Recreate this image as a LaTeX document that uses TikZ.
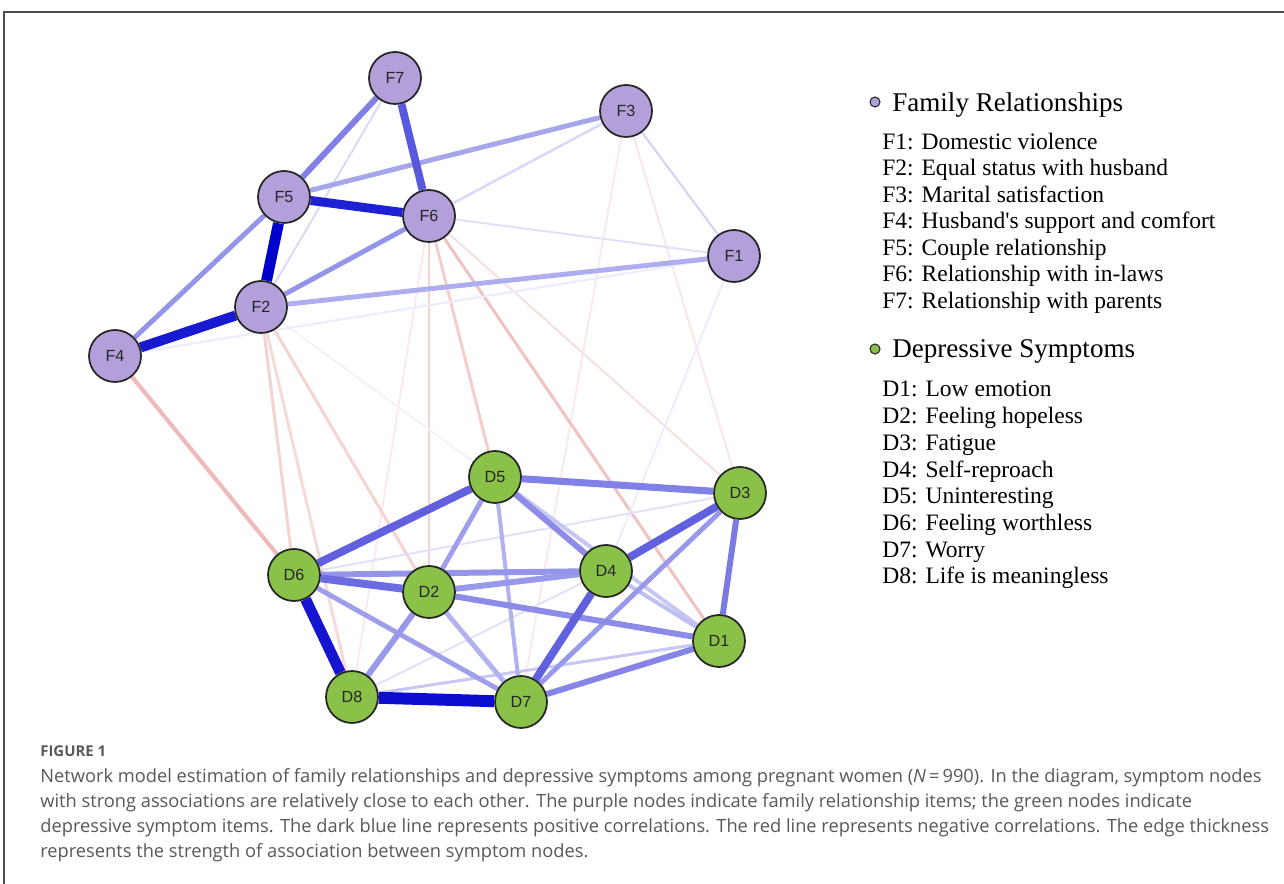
\documentclass[tikz,border=0pt]{standalone}
\usepackage{fontspec}
\setmainfont{Liberation Serif}
\newfontfamily\nodefont{Liberation Sans}
\newfontfamily\capfont{Open Sans}
\usetikzlibrary{positioning,backgrounds}
\definecolor{famcol}{RGB}{179,160,218}
\definecolor{depcol}{RGB}{138,193,72}
\definecolor{posedge}{RGB}{0,0,205}
\definecolor{negedge}{RGB}{215,80,80}
\definecolor{capgray}{RGB}{88,88,88}

\begin{document}
\begin{tikzpicture}[
    x=0.02cm, y=-0.02cm,
    item/.style={circle, draw=black!85, line width=1pt, minimum size=1.04cm, inner sep=0pt,
                 font=\nodefont\fontsize{9.2}{10}\selectfont, text=black!85},
    fam/.style={item, fill=famcol},
    dep/.style={item, fill=depcol},
    legdot/.style={circle, draw=black!85, line width=0.6pt, minimum size=0.2cm, inner sep=0pt},
    leghead/.style={anchor=base west, inner sep=0pt, font=\fontsize{15.4}{17}\selectfont},
    legitem/.style={anchor=base west, inner sep=0pt, font=\fontsize{13.4}{15}\selectfont},
    capline/.style={anchor=base west, inner sep=0pt, text=capgray, font=\capfont\fontsize{10.4}{12}\selectfont}
]
\useasboundingbox (0,0) rectangle (1284,884);
% frame of the figure
\draw[black!70, line width=0.6pt] (4,884) -- (4,12) -- (1284,12);

% family relationship nodes
\node[fam] (F7) at (395,78) {F7};
\node[fam] (F3) at (626,111) {F3};
\node[fam] (F5) at (284,197) {F5};
\node[fam] (F6) at (429,216) {F6};
\node[fam] (F1) at (734,256) {F1};
\node[fam] (F2) at (261,307) {F2};
\node[fam] (F4) at (115,356) {F4};

% depressive symptom nodes
\node[dep] (D5) at (495,477) {D5};
\node[dep] (D3) at (740,493) {D3};
\node[dep] (D6) at (294,575) {D6};
\node[dep] (D4) at (606,571) {D4};
\node[dep] (D2) at (429,592) {D2};
\node[dep] (D1) at (719,641) {D1};
\node[dep] (D8) at (352,697) {D8};
\node[dep] (D7) at (521,702) {D7};

\begin{scope}[on background layer]
    % negative edges (red)
    \foreach \a/\b/\lw/\pc in {F6/D8/1.1/12, F3/D7/1.1/12, F3/D3/1.1/14, F6/D3/1.1/18,
                               F2/D8/1.7/22, F2/D6/1.7/25, F2/D2/1.7/25, F6/D2/1.7/25,
                               F6/D5/1.7/28, F6/D1/1.7/35, F4/D6/2.3/40}
        \draw[line width=\lw pt, draw=negedge!\pc!white] (\a) -- (\b);
    % positive edges (blue), weakest first
    \foreach \a/\b/\lw/\pc in {F2/D1/1/6, F1/D4/1/8, F4/F1/1.1/8, F6/F1/1.1/12, D3/D6/1.1/12, D4/D8/1.1/12,
                               F7/F2/1.1/15, F6/F3/1.5/15, F3/F1/1.1/18, D8/D1/1.7/22,
                               D5/D1/2.3/22, D4/D1/2.3/25, D5/D7/2.3/30, D2/D7/2.8/30,
                               F2/F1/2.8/32, F5/F3/2.8/35, D5/D2/2.8/38, D6/D7/2.8/38,
                               D2/D4/3.4/40, D2/D8/3.4/40, D3/D7/2.8/40,
                               F4/F5/2.8/42, F6/F2/2.8/42, D6/D4/3.4/42,
                               D5/D4/3.4/45, D2/D1/3.4/45, D7/D1/3.4/48, D5/D3/4/50,
                               F7/F5/3.4/50, D3/D1/3.4/52, D6/D2/4.5/58,
                               D6/D5/4.5/62, D4/D3/4.5/62, D4/D7/4.5/62, F7/F6/4.5/65,
                               F5/F6/5.1/88, F4/F2/5.7/90, D6/D8/6.2/92, D8/D7/6.8/95, F5/F2/6.2/100}
        \draw[line width=\lw pt, draw=posedge!\pc!white] (\a) -- (\b);
\end{scope}

% legend
\node[legdot, fill=famcol] (famdot) at (875,102) {};
\node[leghead] (famhead) at (892,112) {Family Relationships};
\foreach \txt [count=\i from 0] in {F1: Domestic violence, F2: Equal status with husband,
        F3: Marital satisfaction, F4: Husband\textquotesingle s support and comfort, F5: Couple relationship,
        F6: Relationship with in-laws, F7: Relationship with parents}
    \node[legitem] (lf\i) at (882,{149.5+26.5*\i}) {\txt};
\node[legdot, fill=depcol] (depdot) at (875,349) {};
\node[leghead] (dephead) at (892,358) {Depressive Symptoms};
\foreach \txt [count=\i from 0] in {D1: Low emotion, D2: Feeling hopeless, D3: Fatigue,
        D4: Self-reproach, D5: Uninteresting, D6: Feeling worthless, D7: Worry,
        D8: Life is meaningless}
    \node[legitem] (ld\i) at (882,{397+26.7*\i}) {\txt};

% caption
\node[capline, font=\capfont\bfseries\fontsize{8.5}{10}\selectfont] (fig) at (40,756) {FIGURE 1};
\node[capline] (cap1) at (40,782) {Network model estimation of family relationships and depressive symptoms among pregnant women (\textit{N}\,=\,990). In the diagram, symptom nodes};
\node[capline] (cap2) at (40,807) {with strong associations are relatively close to each other. The purple nodes indicate family relationship items; the green nodes indicate};
\node[capline] (cap3) at (40,832) {depressive symptom items. The dark blue line represents positive correlations. The red line represents negative correlations. The edge thickness};
\node[capline] (cap4) at (40,857) {represents the strength of association between symptom nodes.};
\end{tikzpicture}
\end{document}
